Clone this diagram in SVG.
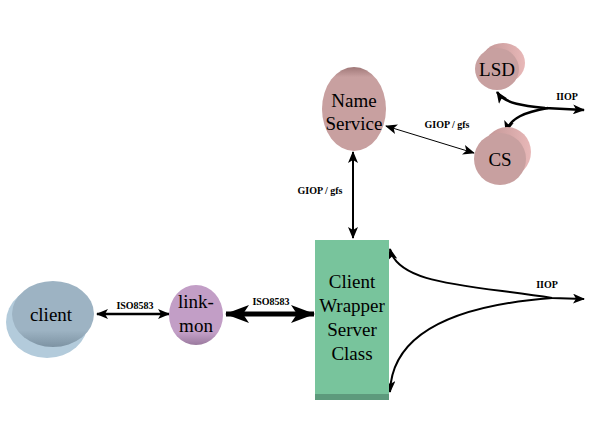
<svg xmlns="http://www.w3.org/2000/svg" width="598" height="448" viewBox="0 0 598 448">
<style>
text{font-family:"Liberation Serif","Times New Roman",serif;fill:#000;text-anchor:middle}
.t{font-size:19px}
.l{font-size:10px;font-weight:bold}
.c{fill:none;stroke:#000}
</style>
<defs>
<marker id="a" viewBox="0 0 12 10" refX="11" refY="5" markerWidth="12" markerHeight="10" markerUnits="userSpaceOnUse" orient="auto-start-reverse">
<path d="M0,0 L12,5 L0,10 L3,5 Z" fill="#000"/>
</marker>
<marker id="b" viewBox="0 0 24 18" refX="23" refY="9" markerWidth="24" markerHeight="18" markerUnits="userSpaceOnUse" orient="auto-start-reverse">
<path d="M0,0 L24,9 L0,18 L6,9 Z" fill="#000"/>
</marker>
<linearGradient id="gc" x1="0" y1="0" x2="0" y2="1">
<stop offset="0" stop-color="#9db3c3"/><stop offset="0.75" stop-color="#9db3c3"/><stop offset="1" stop-color="#7d93a3"/>
</linearGradient>
<linearGradient id="gl" x1="0" y1="0" x2="0" y2="1">
<stop offset="0" stop-color="#c29ec6"/><stop offset="0.8" stop-color="#c29ec6"/><stop offset="1" stop-color="#9a7a9e"/>
</linearGradient>
<linearGradient id="gn" x1="0" y1="0" x2="0" y2="1">
<stop offset="0" stop-color="#a07878"/><stop offset="0.12" stop-color="#c8a0a0"/><stop offset="1" stop-color="#c8a0a0"/>
</linearGradient>
<linearGradient id="gp" x1="0" y1="0" x2="1" y2="0">
<stop offset="0" stop-color="#c09494"/><stop offset="1" stop-color="#e8b8b8"/>
</linearGradient>
</defs>

<g id="connectors">
<line class="c" x1="97" y1="314" x2="169" y2="314" stroke-width="2.5" marker-start="url(#a)" marker-end="url(#a)"/>
<text class="l" x="135" y="309">ISO8583</text>
<line class="c" x1="226" y1="314" x2="314" y2="314" stroke-width="5" marker-start="url(#b)" marker-end="url(#b)"/>
<text class="l" x="271" y="305">ISO8583</text>
<line class="c" x1="353" y1="152" x2="353" y2="238" stroke-width="2" marker-start="url(#a)" marker-end="url(#a)"/>
<text class="l" x="320" y="194">GIOP / gfs</text>
<line class="c" x1="386" y1="126" x2="474" y2="153" stroke-width="1" marker-start="url(#a)" marker-end="url(#a)"/>
<text class="l" x="447" y="128">GIOP / gfs</text>
<path class="c" d="M497,92 C505,104 525,106 545,108 L584,110" stroke-width="2.5" marker-start="url(#a)" marker-end="url(#a)"/>
<path class="c" d="M506,132 C510,118 525,112 548,108" stroke-width="2.5" marker-start="url(#a)"/>
<text class="l" x="567" y="100">IIOP</text>
<path class="c" d="M390,249 C398,285 470,285 552,298 L584,299" stroke-width="2" marker-start="url(#a)" marker-end="url(#a)"/>
<path class="c" d="M390,392 C392,330 460,305 552,298" stroke-width="2" marker-start="url(#a)"/>
<text class="l" x="547" y="288">IIOP</text>
</g>

<g id="client">
<ellipse cx="47" cy="322" rx="41" ry="36" fill="#b3cbdb"/>
<ellipse cx="53" cy="314" rx="41" ry="33" fill="url(#gc)"/>
<text class="t" x="51" y="321">client</text>
</g>

<g id="link-mon">
<ellipse cx="196" cy="315" rx="27" ry="30" fill="url(#gl)"/>
<text class="t" x="196" y="308">link-</text>
<text class="t" x="196" y="332">mon</text>
</g>

<g id="box">
<rect x="315" y="240" width="74" height="160" fill="#5d9a7c"/>
<rect x="315" y="240" width="74" height="154" fill="#78c49c"/>
<text class="t" x="352" y="288">Client</text>
<text class="t" x="352" y="312">Wrapper</text>
<text class="t" x="352" y="336">Server</text>
<text class="t" x="352" y="360">Class</text>
</g>

<g id="name-service">
<ellipse cx="354" cy="109" rx="32" ry="42" fill="url(#gn)"/>
<text class="t" x="354" y="107">Name</text>
<text class="t" x="354" y="130">Service</text>
</g>

<g id="lsd">
<ellipse cx="503" cy="63" rx="22" ry="20" fill="url(#gp)"/>
<ellipse cx="497" cy="69" rx="22" ry="21" fill="#c8a0a0"/>
<text class="t" x="497" y="76">LSD</text>
</g>

<g id="cs">
<ellipse cx="507" cy="152" rx="24" ry="25" fill="url(#gp)"/>
<ellipse cx="500" cy="159" rx="26" ry="26" fill="#c8a0a0"/>
<text class="t" x="500" y="166">CS</text>
</g>
</svg>
